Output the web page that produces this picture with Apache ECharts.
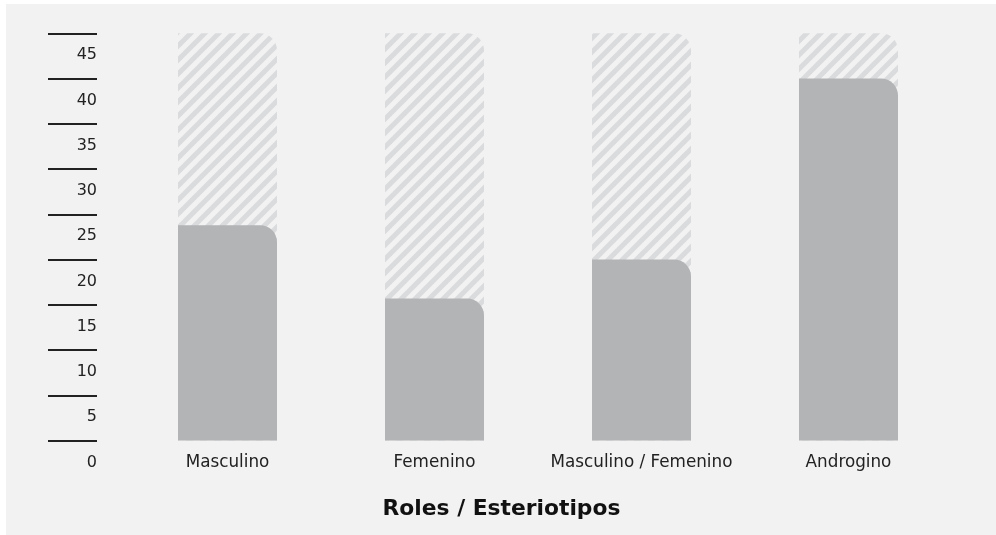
<!DOCTYPE html>
<html><head><meta charset="utf-8">
<script src="https://cdn.jsdelivr.net/npm/echarts@6/dist/echarts.min.js"></script>
<style>
html,body{margin:0;padding:0;background:#ffffff;}
#bg{position:absolute;left:6px;top:4px;right:0;bottom:0;background:#f2f2f2;}
#chart{position:absolute;left:0;top:0;width:996px;height:535px;}
</style>
</head><body><div id="bg"></div><div id="chart"></div>
<script>
const categories = ['Masculino', 'Femenino', 'Masculino / Femenino', 'Androgino'];
const values = [23.8, 15.7, 20, 40];
const maxValues = [45, 45, 45, 45];
const axisName = 'Roles / Esteriotipos';

function hatch() {
  const s = 14;
  const c = document.createElement('canvas');
  c.width = s; c.height = s;
  const ctx = c.getContext('2d');
  ctx.fillStyle = '#f2f2f2';
  ctx.fillRect(0, 0, s, s);
  ctx.strokeStyle = '#dadbdd';
  ctx.lineWidth = 5;
  ctx.lineCap = 'butt';
  for (let k = -1; k <= 1; k++) {
    ctx.beginPath();
    ctx.moveTo(k * s - s, 2 * s);
    ctx.lineTo(k * s + 2 * s, -s);
    ctx.stroke();
  }
  return c;
}

const chart = echarts.init(document.getElementById('chart'), null, {renderer: 'canvas'});
chart.setOption({
  animation: false,
  backgroundColor: 'transparent',
  grid: {left: 124, right: 44, top: 33.3, bottom: 94.5, containLabel: false},
  xAxis: {
    type: 'category',
    data: categories,
    axisLine: {show: false},
    axisTick: {show: false},
    axisLabel: {
      margin: 14, color: '#222', fontSize: 16.8, fontFamily: 'DejaVu Sans',
      verticalAlign: 'top', lineHeight: 16, interval: 0
    }
  },
  yAxis: {
    type: 'value',
    min: 0, max: 45, interval: 5,
    offset: 27,
    axisLine: {show: false},
    axisTick: {show: true, length: 49, lineStyle: {color: '#222', width: 2}},
    splitLine: {show: false},
    axisLabel: {
      margin: 0, color: '#222', fontSize: 16, fontFamily: 'DejaVu Sans',
      verticalAlign: 'top', lineHeight: 16, padding: [14, 0, 0, 0], align: 'right'
    }
  },
  graphic: [{
    type: 'text', x: 501.5, y: 509,
    style: {text: axisName, font: 'bold 21.8px "DejaVu Sans"', fill: '#111', align: 'center', verticalAlign: 'middle'}
  }],
  series: [
    {
      type: 'bar', data: maxValues, barWidth: 99, silent: true,
      itemStyle: {color: {image: hatch(), repeat: 'repeat'}, borderRadius: [0, 17, 0, 0]}
    },
    {
      type: 'bar', data: values, barWidth: 99, barGap: '-100%', silent: true,
      itemStyle: {color: '#b3b4b6', borderRadius: [0, 17, 0, 0]}
    }
  ]
});
</script>
</body></html>
